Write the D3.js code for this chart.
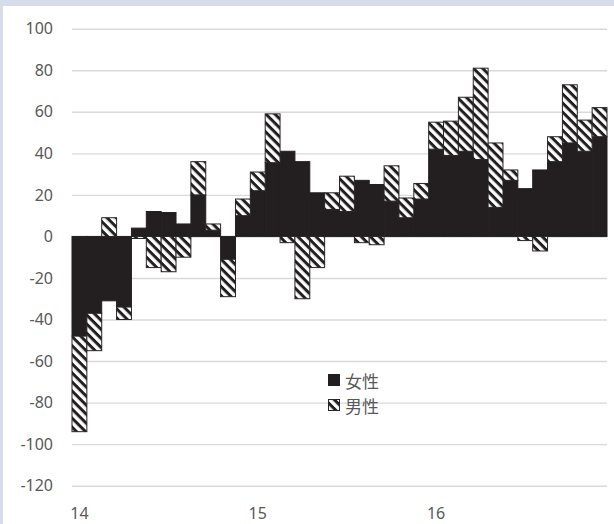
<!DOCTYPE html>
<html>
<head>
<meta charset="utf-8">
<script src="https://cdn.jsdelivr.net/npm/d3@7"></script>
<style>
  body { margin: 0; background: #d6dce9; }
  svg { display: block; }
  .tick text { font-family: 'Noto Sans', 'Liberation Sans', sans-serif; font-size: 16px; fill: #595959; }
  .legend text { font-family: 'Noto Sans CJK JP', sans-serif; font-size: 17px; fill: #595959; }
</style>
</head>
<body>
<div id="container"></div>
<script>
const months = [
  '14-01', '14-02', '14-03', '14-04', '14-05', '14-06', '14-07', '14-08', '14-09', '14-10', '14-11', '14-12',
  '15-01', '15-02', '15-03', '15-04', '15-05', '15-06', '15-07', '15-08', '15-09', '15-10', '15-11', '15-12',
  '16-01', '16-02', '16-03', '16-04', '16-05', '16-06', '16-07', '16-08', '16-09', '16-10', '16-11', '16-12'
]
const female = [
  -48, -37, -31, -34, 4, 12, 11.5, 6, 20, 3, -11, 10,
  22, 35.5, 41, 36, 21, 13, 12, 27, 25, 17, 9, 18,
  42, 39, 41, 37, 14, 27, 23, 32, 36, 45, 41, 48
]
const male = [
  -46, -18, 9, -6, -1, -15, -17, -10, 16, 3, -18, 8,
  9, 23.5, -3, -30, -15, 8, 17, -3, -4, 17, 9.5, 7.5,
  13, 16.5, 26, 44, 31, 5, -2, -7, 12, 28, 15, 14
]
const yTicks = [100, 80, 60, 40, 20, 0, -20, -40, -60, -80, -100, -120]
const xTickMonths = ['14-01', '15-01', '16-01']
const xTickLabels = ['14', '15', '16']
const seriesNames = ['女性', '男性']

const w = 614
const h = 524
const plotLeft = 72
const plotRight = 607
const plotTop = 28.7
const plotBottom = 485.7

const svg = d3.select('#container')
  .append('svg')
  .attr('width', w)
  .attr('height', h)

// diagonal stripes for the 男性 series
const defs = svg.append('defs')
const pat = defs.append('pattern')
  .attr('id', 'hatch')
  .attr('patternUnits', 'userSpaceOnUse')
  .attr('width', 6.4)
  .attr('height', 6.4)
  .attr('patternTransform', 'rotate(45)')
pat.append('rect').attr('width', 6.4).attr('height', 6.4).attr('fill', '#fff')
pat.append('rect').attr('width', 6.4).attr('height', 3).attr('fill', '#231f20')

// white chart area inside the frame
svg.append('rect')
  .attr('x', 3)
  .attr('y', 6)
  .attr('width', w - 3)
  .attr('height', h - 6)
  .attr('fill', '#fff')

const x = d3.scaleBand()
  .domain(months)
  .range([plotLeft, plotRight])
  .padding(0)

const y = d3.scaleLinear()
  .domain([-120, 100])
  .range([plotBottom, plotTop])

const yAxis = d3.axisLeft(y)
  .tickValues(yTicks)
  .tickFormat(d => String(d))
  .tickSize(-(plotRight - plotLeft))
  .tickPadding(19)

svg.append('g')
  .attr('transform', 'translate(' + plotLeft + ',0)')
  .call(yAxis)
  .call(g => g.select('.domain').remove())
  .call(g => g.selectAll('.tick line').attr('stroke', '#d9d9d9').attr('stroke-width', 1.4))

const xAxis = d3.axisBottom(x)
  .tickValues(xTickMonths)
  .tickFormat((d, i) => xTickLabels[i])
  .tickSize(0)
  .tickPadding(22)

svg.append('g')
  .attr('transform', 'translate(0,' + plotBottom + ')')
  .call(xAxis)
  .call(g => g.select('.domain').remove())

const rows = months.map((m, i) => ({ month: m, female: female[i], male: male[i] }))

const stack = d3.stack()
  .keys(['female', 'male'])
  .offset(d3.stackOffsetDiverging)

const layers = stack(rows)
const fills = ['#231f20', 'url(#hatch)']
const strokes = ['#231f20', '#262626']

svg.append('g')
  .selectAll('g')
  .data(layers)
  .join('g')
  .attr('fill', (d, i) => fills[i])
  .attr('stroke', (d, i) => strokes[i])
  .attr('stroke-width', 1)
  .selectAll('rect')
  .data(d => d)
  .join('rect')
  .attr('x', d => x(d.data.month))
  .attr('width', x.bandwidth())
  .attr('y', d => y(Math.max(d[0], d[1])))
  .attr('height', d => Math.abs(y(d[0]) - y(d[1])))

const legend = svg.append('g').attr('class', 'legend')

seriesNames.forEach((name, i) => {
  legend.append('rect')
    .attr('x', 328.5)
    .attr('y', 374.5 + i * 25)
    .attr('width', 11)
    .attr('height', 11)
    .attr('fill', fills[i])
    .attr('stroke', strokes[i])
    .attr('stroke-width', 1)
  legend.append('text')
    .attr('x', 345)
    .attr('y', 380 + i * 25)
    .attr('dominant-baseline', 'central')
    .text(name)
})
</script>
</body>
</html>
